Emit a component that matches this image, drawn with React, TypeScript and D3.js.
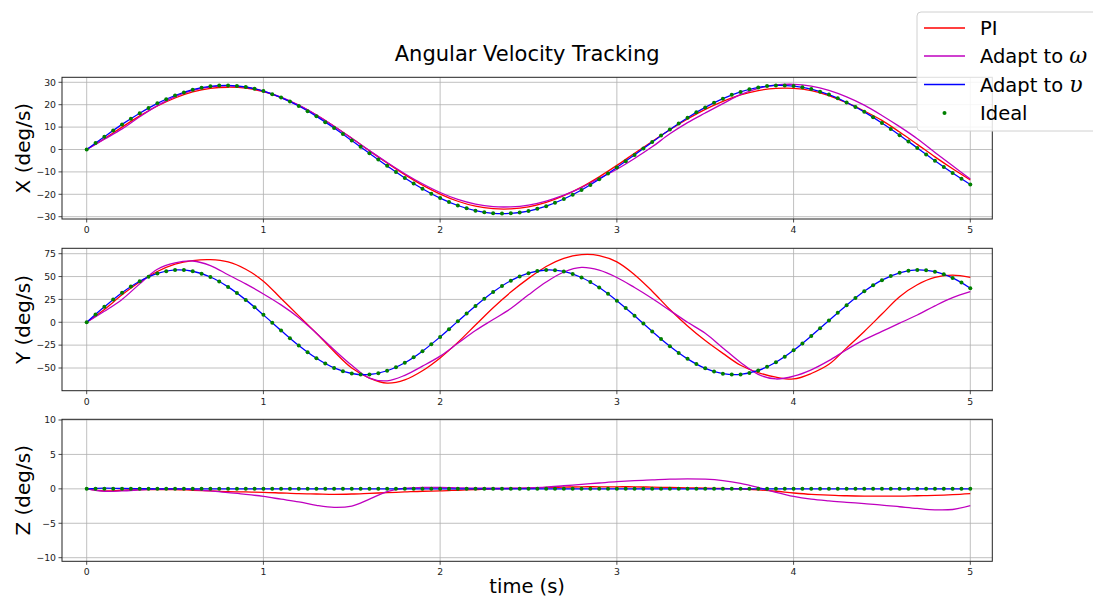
import React from "react";
import * as d3 from "d3";

// ---------- data ----------
const T_LINE = d3.range(51).map((i) => i / 10);
const T_IDEAL = d3.range(101).map((i) => i / 20);

const X_TICKS_T = [0, 1, 2, 3, 4, 5];
const Y_TICKS_X = [-30, -20, -10, 0, 10, 20, 30];
const Y_TICKS_Y = [-50, -25, 0, 25, 50, 75];
const Y_TICKS_Z = [-10, -5, 0, 5, 10];

const PI_X = [0, 4.8, 10.0, 15.0, 19.4, 23.0, 25.7, 27.3, 27.8, 27.4, 25.8, 23.2, 19.7, 15.4, 10.4, 5.0, -0.6, -6.0, -11.2, -15.9, -19.9, -23.1, -25.3, -26.4, -26.5, -25.6, -23.6, -20.6, -16.8, -12.2, -7.1, -1.7, 3.6, 8.8, 13.6, 17.9, 21.5, 24.4, 26.3, 27.3, 27.3, 26.3, 24.1, 20.9, 17.2, 13.0, 7.8, 2.3, -3.3, -8.6, -13.6];
const ADAPT_W_X = [0, 4.6, 9.2, 14.6, 19.6, 23.6, 26.4, 28.0, 28.4, 27.8, 26.1, 23.4, 19.8, 15.4, 10.4, 5.0, -0.5, -5.8, -10.8, -15.3, -19.2, -22.3, -24.4, -25.5, -25.6, -24.8, -23.0, -20.4, -17.0, -12.9, -8.8, -4.0, 1.2, 7.0, 12.0, 16.3, 20.5, 24.5, 27.3, 28.8, 29.1, 28.3, 26.4, 23.5, 19.8, 15.2, 10.2, 4.8, -1.3, -7.3, -13.2];
const ADAPT_V_X = [0, 5.7, 11.2, 16.2, 20.6, 24.1, 26.7, 28.2, 28.6, 27.9, 26.1, 23.2, 19.4, 14.8, 9.6, 4.0, -1.7, -7.3, -12.7, -17.5, -21.7, -25.0, -27.3, -28.5, -28.5, -27.5, -25.3, -22.1, -18.1, -13.3, -8.0, -2.4, 3.3, 8.9, 14.2, 18.8, 22.7, 25.7, 27.7, 28.6, 28.3, 27.0, 24.5, 21.0, 16.8, 11.8, 6.4, 0.7, -5.0, -10.5, -15.6];
const IDEAL_X = [0.0, 2.9, 5.7, 8.5, 11.2, 13.7, 16.2, 18.5, 20.6, 22.4, 24.1, 25.5, 26.7, 27.6, 28.2, 28.6, 28.6, 28.4, 27.9, 27.1, 26.1, 24.7, 23.2, 21.4, 19.4, 17.1, 14.8, 12.2, 9.6, 6.9, 4.0, 1.2, -1.7, -4.5, -7.3, -10.1, -12.7, -15.2, -17.5, -19.7, -21.7, -23.4, -25.0, -26.2, -27.3, -28.0, -28.5, -28.6, -28.5, -28.1, -27.5, -26.5, -25.3, -23.8, -22.1, -20.2, -18.1, -15.8, -13.3, -10.7, -8.0, -5.2, -2.4, 0.5, 3.3, 6.2, 8.9, 11.6, 14.2, 16.6, 18.8, 20.9, 22.7, 24.4, 25.7, 26.9, 27.7, 28.3, 28.6, 28.6, 28.3, 27.8, 27.0, 25.8, 24.5, 22.9, 21.0, 19.0, 16.8, 14.4, 11.8, 9.1, 6.4, 3.6, 0.7, -2.2, -5.0, -7.8, -10.5, -13.1, -15.6];

const PI_Y = [0, 14, 30, 44, 55.5, 63.5, 67.5, 68.5, 66, 58, 45, 26, 7, -12, -32, -50, -61, -66.5, -63, -53, -39, -22, -3, 16, 33, 48, 61, 70, 74, 73, 66, 52, 34, 14, -4, -20, -34, -47, -55, -60, -62, -56, -46, -28, -10, 9, 28, 41, 49, 51.5, 49];
const ADAPT_W_Y = [0, 12, 25, 42, 58, 65, 67, 62, 52, 42, 31, 19, 5, -12, -30, -47, -61, -64, -58, -48, -37, -23, -9, 3, 15, 30, 44, 55, 60, 57, 49, 38, 26, 13, 0, -12, -28, -44, -57, -62, -59, -52, -42, -30, -19, -10, -1, 8, 18, 27, 33.5];
const ADAPT_V_Y = [0, 16.9, 32.4, 44.9, 53.4, 57.2, 55.8, 49.5, 38.7, 24.5, 8.1, -9.0, -25.4, -39.4, -49.9, -56.0, -57.1, -53.0, -44.3, -31.6, -16.0, 1.0, 17.8, 33.1, 45.5, 53.7, 57.2, 55.6, 49.0, 38.0, 23.6, 7.1, -10.0, -26.2, -40.0, -50.4, -56.2, -57.0, -52.7, -43.7, -30.7, -15.0, 1.9, 18.7, 33.9, 46.1, 54.1, 57.3, 55.3, 48.5, 37.3];
const IDEAL_Y = [0, 8.6, 16.9, 24.9, 32.4, 39.1, 44.9, 49.7, 53.4, 55.9, 57.2, 57.1, 55.8, 53.2, 49.5, 44.6, 38.7, 32.0, 24.5, 16.5, 8.1, -0.5, -9.0, -17.4, -25.4, -32.8, -39.4, -45.2, -49.9, -53.6, -56.0, -57.2, -57.1, -55.7, -53.0, -49.2, -44.3, -38.3, -31.6, -24.1, -16.0, -7.6, 1.0, 9.5, 17.8, 25.8, 33.1, 39.8, 45.5, 50.2, 53.7, 56.1, 57.2, 57.0, 55.6, 52.9, 49.0, 44.0, 38.0, 31.2, 23.6, 15.5, 7.1, -1.4, -10.0, -18.3, -26.2, -33.5, -40.0, -45.7, -50.4, -53.8, -56.2, -57.2, -57.0, -55.5, -52.7, -48.7, -43.7, -37.6, -30.7, -23.1, -15.0, -6.6, 1.9, 10.4, 18.7, 26.6, 33.9, 40.4, 46.1, 50.6, 54.1, 56.3, 57.3, 56.9, 55.3, 52.5, 48.5, 43.4, 37.3];

const PI_Z = [0, -0.3, -0.2, -0.1, -0.1, -0.1, -0.2, -0.3, -0.4, -0.45, -0.5, -0.6, -0.7, -0.75, -0.8, -0.75, -0.65, -0.55, -0.45, -0.35, -0.3, -0.2, -0.1, 0, 0.05, 0.1, 0.2, 0.25, 0.3, 0.3, 0.3, 0.3, 0.25, 0.2, 0.15, 0.1, 0.05, 0, -0.15, -0.35, -0.6, -0.8, -0.9, -1.0, -1.05, -1.05, -1.05, -1.0, -0.95, -0.85, -0.7];
const ADAPT_W_Z = [0, -0.35, -0.3, -0.15, 0, 0, -0.1, -0.3, -0.55, -0.8, -1.1, -1.5, -1.9, -2.4, -2.7, -2.5, -1.5, -0.4, 0.1, 0.2, 0.2, 0.15, 0.1, 0.1, 0.1, 0.15, 0.25, 0.45, 0.65, 0.85, 1.05, 1.2, 1.3, 1.4, 1.45, 1.4, 1.2, 0.8, 0.2, -0.5, -1.1, -1.5, -1.75, -1.95, -2.15, -2.35, -2.6, -2.85, -3.05, -3.0, -2.45];
const ADAPT_V_Z = [0, 0.1, 0.05, 0.02, 0.01, 0, 0, 0, 0, 0, 0, 0, 0, 0, 0, 0, 0, 0, 0, 0, 0, 0, 0, 0, 0, 0, 0, 0, 0, 0, 0, 0, 0, 0, 0, 0, 0, 0, 0, 0, 0, 0, 0, 0, 0, 0, 0, 0, 0, 0, 0];
const IDEAL_Z = [0, 0, 0, 0, 0, 0, 0, 0, 0, 0, 0, 0, 0, 0, 0, 0, 0, 0, 0, 0, 0, 0, 0, 0, 0, 0, 0, 0, 0, 0, 0, 0, 0, 0, 0, 0, 0, 0, 0, 0, 0, 0, 0, 0, 0, 0, 0, 0, 0, 0, 0, 0, 0, 0, 0, 0, 0, 0, 0, 0, 0, 0, 0, 0, 0, 0, 0, 0, 0, 0, 0, 0, 0, 0, 0, 0, 0, 0, 0, 0, 0, 0, 0, 0, 0, 0, 0, 0, 0, 0, 0, 0, 0, 0, 0, 0, 0, 0, 0, 0, 0];

const SERIES_NAMES = ["PI", "Adapt to ", "Adapt to ", "Ideal"];
const SERIES_SYMBOLS = ["", "ω", "υ", ""];
const COLORS = { pi: "#ff0000", adw: "#bf00bf", adv: "#0000ff", ideal: "#008000" };

// ---------- layout ----------
const W = 1093;
const H = 597;
const AX_L = 62;
const AX_R = 992.3;
const FONT = "DejaVu Sans, Liberation Sans, sans-serif";
const fmt = (v: number) => (v < 0 ? "\u2212" + Math.abs(v) : String(v));

const xScale = d3.scaleLinear().domain([0, 5]).range([86.7, 970.3]);

const PANELS = [
  { key: "x", top: 77.3, bottom: 219, domain: [-30, 30], range: [216.7, 82.3], ticks: Y_TICKS_X, label: "X (deg/s)", pi: PI_X, adw: ADAPT_W_X, adv: ADAPT_V_X, ideal: IDEAL_X },
  { key: "y", top: 248.3, bottom: 390.7, domain: [-50, 75], range: [368, 253.7], ticks: Y_TICKS_Y, label: "Y (deg/s)", pi: PI_Y, adw: ADAPT_W_Y, adv: ADAPT_V_Y, ideal: IDEAL_Y },
  { key: "z", top: 419.3, bottom: 561.3, domain: [-10, 10], range: [557.7, 420], ticks: Y_TICKS_Z, label: "Z (deg/s)", pi: PI_Z, adw: ADAPT_W_Z, adv: ADAPT_V_Z, ideal: IDEAL_Z },
];

function Panel({ p }: { p: (typeof PANELS)[number] }) {
  const y = d3.scaleLinear().domain(p.domain).range(p.range);
  const line = d3
    .line<number>()
    .x((_, i) => xScale(T_LINE[i]))
    .y((d) => y(d))
    .curve(d3.curveCatmullRom.alpha(0.5));
  const clipId = "clip-" + p.key;
  const midY = (p.top + p.bottom) / 2;
  return (
    <g>
      <defs>
        <clipPath id={clipId}>
          <rect x={AX_L} y={p.top} width={AX_R - AX_L} height={p.bottom - p.top} />
        </clipPath>
      </defs>
      {X_TICKS_T.map((t) => (
        <line key={"gx" + t} x1={xScale(t)} x2={xScale(t)} y1={p.top} y2={p.bottom} stroke="#b0b0b0" strokeWidth={0.8} />
      ))}
      {p.ticks.map((v) => (
        <line key={"gy" + v} x1={AX_L} x2={AX_R} y1={y(v)} y2={y(v)} stroke="#b0b0b0" strokeWidth={0.8} />
      ))}
      <g clipPath={`url(#${clipId})`}>
        <path d={line(p.pi) || ""} fill="none" stroke={COLORS.pi} strokeWidth={1.3} />
        <path d={line(p.adw) || ""} fill="none" stroke={COLORS.adw} strokeWidth={1.3} />
        <path d={line(p.adv) || ""} fill="none" stroke={COLORS.adv} strokeWidth={1.3} />
        {p.ideal.map((v, i) => (
          <circle key={i} cx={xScale(T_IDEAL[i])} cy={y(v)} r={2} fill={COLORS.ideal} />
        ))}
      </g>
      <rect x={AX_L} y={p.top} width={AX_R - AX_L} height={p.bottom - p.top} fill="none" stroke="#222" strokeWidth={1} />
      {X_TICKS_T.map((t) => (
        <g key={"tx" + t}>
          <line x1={xScale(t)} x2={xScale(t)} y1={p.bottom} y2={p.bottom + 3.5} stroke="#222" strokeWidth={0.8} />
          <text x={xScale(t)} y={p.bottom + 14} textAnchor="middle" fontSize={9.3} fontFamily={FONT} fill="#222">
            {fmt(t)}
          </text>
        </g>
      ))}
      {p.ticks.map((v) => (
        <g key={"ty" + v}>
          <line x1={AX_L - 3.5} x2={AX_L} y1={y(v)} y2={y(v)} stroke="#222" strokeWidth={0.8} />
          <text x={AX_L - 6} y={y(v) + 3.3} textAnchor="end" fontSize={9.3} fontFamily={FONT} fill="#222">
            {fmt(v)}
          </text>
        </g>
      ))}
      <text
        transform={`translate(30,${midY}) rotate(-90)`}
        textAnchor="middle"
        fontSize={20}
        fontFamily={FONT}
        fill="#000"
      >
        {p.label}
      </text>
    </g>
  );
}

function Legend() {
  const rows = [
    { y: 28, color: COLORS.pi, kind: "line" },
    { y: 56, color: COLORS.adw, kind: "line" },
    { y: 84.5, color: COLORS.adv, kind: "line" },
    { y: 113, color: COLORS.ideal, kind: "dot" },
  ];
  return (
    <g>
      <rect x={917} y={12} width={200} height={119} rx={4} fill="#fff" fillOpacity={0.85} stroke="#d0d0d0" strokeWidth={1} />
      {rows.map((r, i) => (
        <g key={i}>
          {r.kind === "line" ? (
            <line x1={924} x2={965} y1={r.y} y2={r.y} stroke={r.color} strokeWidth={1.3} />
          ) : (
            <circle cx={944.5} cy={r.y} r={2} fill={r.color} />
          )}
          <text x={980} y={r.y + 7} fontSize={19.5} fontFamily={FONT} fill="#000">
            {SERIES_NAMES[i]}
            {SERIES_SYMBOLS[i] ? (
              <tspan fontFamily="DejaVu Serif, Liberation Serif, serif" fontStyle="italic" fontSize={22}>
                {SERIES_SYMBOLS[i]}
              </tspan>
            ) : null}
          </text>
        </g>
      ))}
    </g>
  );
}

export default function App() {
  return (
    <svg
      width={W}
      height={H}
      viewBox={`0 0 ${W} ${H}`}
      style={{ position: "fixed", left: 0, top: 0, background: "#fff" }}
    >
      <rect x={0} y={0} width={W} height={H} fill="#fff" />
      <text x={(AX_L + AX_R) / 2} y={60.5} textAnchor="middle" fontSize={21} fontFamily={FONT} fill="#000">
        Angular Velocity Tracking
      </text>
      {PANELS.map((p) => (
        <Panel key={p.key} p={p} />
      ))}
      <text x={(AX_L + AX_R) / 2} y={593} textAnchor="middle" fontSize={19.5} fontFamily={FONT} fill="#000">
        time (s)
      </text>
      <Legend />
    </svg>
  );
}
